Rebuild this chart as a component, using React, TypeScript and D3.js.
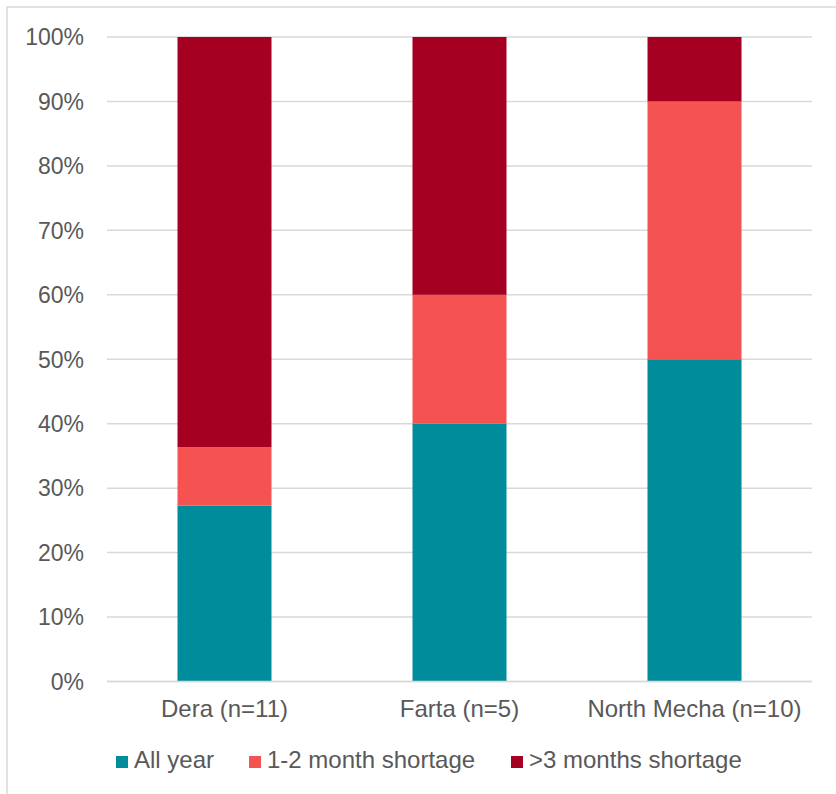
import React from "react";
import * as d3 from "d3";

const categories = ["Dera (n=11)", "Farta (n=5)", "North Mecha (n=10)"];
const seriesNames = ["All year", "1-2 month shortage", ">3 months shortage"];
const allYear = [27.27, 40, 50];
const shortShortage = [9.09, 20, 40];
const longShortage = [63.64, 40, 10];
const yTicks = [0, 10, 20, 30, 40, 50, 60, 70, 80, 90, 100];
const colors = ["#008C9B", "#F55252", "#A50021"];

const W = 836;
const H = 794;
const margin = { left: 107, right: 24, top: 37, bottom: 112.5 };
const FONT = "Liberation Sans, Arial, sans-serif";
const TEXT = "#595959";
const GRID = "#D9D9D9";

export default function App() {
  const x = d3
    .scaleBand<string>()
    .domain(categories)
    .range([margin.left, W - margin.right])
    .paddingInner(0.6)
    .paddingOuter(0.3);
  const y = d3
    .scaleLinear()
    .domain([0, 100])
    .range([H - margin.bottom, margin.top]);

  const rows = categories.map((c, i) => ({
    cat: c,
    [seriesNames[0]]: allYear[i],
    [seriesNames[1]]: shortShortage[i],
    [seriesNames[2]]: longShortage[i],
  }));
  const stacked = d3.stack<any>().keys(seriesNames)(rows);

  const legendX = [116, 249, 511];

  return (
    <svg
      width={W}
      height={H}
      style={{ position: "absolute", left: 0, top: 0, background: "#fff" }}
      fontFamily={FONT}
    >
      <rect x={7} y={7} width={W + 20} height={H + 20} fill="#fff" stroke={GRID} strokeWidth={1.5} />
      {yTicks.map((t) => (
        <g key={t}>
          <line x1={margin.left} x2={W - margin.right} y1={y(t)} y2={y(t)} stroke={GRID} strokeWidth={1.5} />
          <text x={84} y={y(t)} dy="0.36em" textAnchor="end" fontSize={23} fill={TEXT}>
            {t}%
          </text>
        </g>
      ))}
      {stacked.map((layer, si) => (
        <g key={layer.key} fill={colors[si]}>
          {layer.map((d, i) => (
            <rect
              key={i}
              x={x(categories[i])}
              width={x.bandwidth()}
              y={y(d[1])}
              height={y(d[0]) - y(d[1])}
            />
          ))}
        </g>
      ))}
      <line
        x1={margin.left}
        x2={W - margin.right}
        y1={y(0)}
        y2={y(0)}
        stroke={GRID}
        strokeWidth={1.5}
      />
      {categories.map((c) => (
        <text
          key={c}
          x={(x(c) as number) + x.bandwidth() / 2}
          y={717}
          textAnchor="middle"
          fontSize={24}
          fill={TEXT}
        >
          {c}
        </text>
      ))}
      {seriesNames.map((s, i) => (
        <g key={s}>
          <rect x={legendX[i]} y={756} width={12} height={12} fill={colors[i]} />
          <text x={legendX[i] + 18} y={768} fontSize={24} fill={TEXT}>
            {s}
          </text>
        </g>
      ))}
    </svg>
  );
}
